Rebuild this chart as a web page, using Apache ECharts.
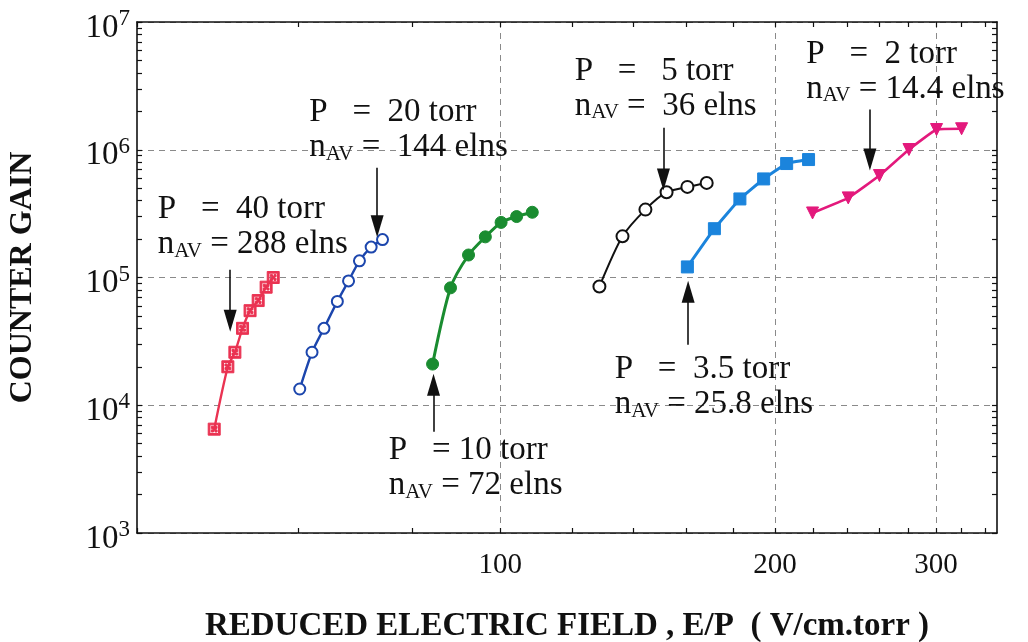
<!DOCTYPE html>
<html>
<head>
<meta charset="utf-8">
<script src="https://cdn.jsdelivr.net/npm/echarts@6/dist/echarts.min.js"></script>
<style>
  html, body { margin: 0; padding: 0; background: #fff; }
  #chart { width: 1028px; height: 642px; }
</style>
</head>
<body>
<div id="chart"></div>
<script>
// Counter gain versus reduced field E/P, one curve per filling pressure
const ep40   = [48.6, 50.3, 51.2, 52.2, 53.2, 54.3, 55.4, 56.4];
const gain40 = [6500, 20000, 26000, 40000, 55000, 66000, 84000, 100000];

const ep20   = [60.3, 62.2, 64.1, 66.3, 68.2, 70.1, 72.2, 74.3];
const gain20 = [13400, 26000, 40000, 65000, 94000, 135000, 173000, 198000];

const ep10   = [84.3, 88.2, 92.3, 96.3, 100.2, 104.2, 108.4];
const gain10 = [21000, 83000, 150000, 208000, 270000, 300000, 324000];

const ep5    = [128.4, 136.1, 144.2, 152.1, 160.3, 168.3];
const gain5  = [85000, 210000, 340000, 465000, 512000, 550000];

const ep35   = [160.3, 171.6, 183.0, 194.3, 205.9, 217.6];
const gain35 = [121000, 241000, 412000, 591000, 780000, 838000];

const ep2    = [219.8, 240.5, 260.2, 280.3, 300.5, 320.1];
const gain2  = [320000, 420000, 628000, 1004000, 1440000, 1460000];

// axis ticks and labels
const xTicks  = [40, 60, 80, 100, 120, 140, 160, 180, 200, 220, 240, 260, 280, 300, 320, 340];
const xLabels = [100, 200, 300];
const yLabels = [1e3, 1e4, 1e5, 1e6, 1e7];
const yTicks = [];
for (let e = 3; e < 7; e++) {
  for (let m = 1; m < 10; m++) yTicks.push(m * Math.pow(10, e));
}
yTicks.push(1e7);

// annotation text: pressure and mean number of electrons per event
const notes = [
  { p: 'P   =  40 torr',  n: ' = 288 elns',  at: [42.1, 250000],  arrow: [[50.6, 115000], [50.6, 45800]] },
  { p: 'P   =  20 torr',  n: ' =  144 elns', at: [61.7, 1440000], arrow: [[73.3, 724000], [73.3, 251500]] },
  { p: 'P   = 10 torr',   n: ' = 72 elns',   at: [75.4, 3230],    arrow: [[84.5, 6190], [84.5, 14450]] },
  { p: 'P   =   5 torr',  n: ' =  36 elns',  at: [120.5, 3020000],arrow: [[150.9, 1490000], [150.9, 584000]] },
  { p: 'P   =  3.5 torr', n: ' = 25.8 elns', at: [133.3, 13900],  arrow: [[160.6, 29700], [160.6, 77400]] },
  { p: 'P   =  2 torr',   n: ' = 14.4 elns', at: [216.1, 4100000],arrow: [[254, 2070000], [254, 838000]] }
];

const serif = '"Liberation Serif", "Times New Roman", serif';
const ink = '#111';

function pairs(xs, ys) { return xs.map((x, i) => [x, ys[i]]); }

function noteMarks(note) {
  return {
    markPoint: {
      silent: true,
      animation: false,
      symbol: 'circle',
      symbolSize: 1,
      itemStyle: { color: 'rgba(0,0,0,0)' },
      data: [{ coord: note.at }],
      label: {
        show: true,
        position: 'right',
        distance: 0,
        align: 'left',
        formatter: '{t|' + note.p + '}\n{t|n}{s|AV}{t|' + note.n + '}',
        rich: {
          t: { fontFamily: serif, fontSize: 33, color: ink, lineHeight: 35 },
          s: { fontFamily: serif, fontSize: 21, color: ink, verticalAlign: 'bottom' }
        }
      }
    },
    markLine: {
      silent: true,
      animation: false,
      symbol: ['none', 'triangle'],
      symbolSize: [13, 22],
      label: { show: false },
      lineStyle: { color: ink, width: 1.6, type: 'solid' },
      data: [[{ coord: note.arrow[0] }, { coord: note.arrow[1] }]]
    }
  };
}

function curve(xs, ys, color, opts, note) {
  return Object.assign({
    type: 'line',
    xAxisIndex: 0,
    yAxisIndex: 0,
    data: pairs(xs, ys),
    smooth: 0.25,
    lineStyle: { color: color, width: 2.4 },
    itemStyle: { color: color, borderColor: color },
    symbolSize: 12,
    animation: false,
    z: 3
  }, opts, noteMarks(note));
}

// square marker with a hatched interior
const crossBox = 'path://M0,0H10V10H0Z M1.4,1.4V8.6H8.6V1.4Z M2.6,2.6H4.4V4.4H2.6Z M5.6,2.6H7.4V4.4H5.6Z M2.6,5.6H4.4V7.4H2.6Z M5.6,5.6H7.4V7.4H5.6Z M4.1,4.1H5.9V5.9H4.1Z';

const chart = echarts.init(document.getElementById('chart'), null, { renderer: 'canvas' });

const xCommon = { type: 'log', logBase: 10, min: 40, max: 350, gridIndex: 0 };
const yCommon = { type: 'log', logBase: 10, min: 1e3, max: 1e7, gridIndex: 0 };
const axisLine = { show: true, onZero: false, lineStyle: { color: ink, width: 1.6 } };

chart.setOption({
  backgroundColor: '#fff',
  grid: { left: 137, right: 31, top: 22, bottom: 109, containLabel: false, outerBoundsMode: 'none' },
  xAxis: [
    Object.assign({}, xCommon, {
      position: 'bottom',
      axisLine: axisLine,
      axisTick: { show: true, inside: true, length: 5, customValues: xTicks, lineStyle: { color: ink, width: 1.2 } },
      axisLabel: { show: true, customValues: xLabels, fontFamily: serif, fontSize: 29, color: ink, margin: 18 },
      splitLine: { show: false },
      name: 'REDUCED ELECTRIC FIELD , E/P  ( V/cm.torr )',
      nameLocation: 'middle',
      nameGap: 77,
      nameTextStyle: { fontFamily: serif, fontWeight: 'bold', fontSize: 33, color: ink }
    }),
    Object.assign({}, xCommon, {
      position: 'top',
      axisLine: axisLine,
      axisTick: { show: true, inside: true, length: 5, customValues: xTicks, lineStyle: { color: ink, width: 1.2 } },
      axisLabel: { show: false },
      splitLine: { show: false }
    }),
    Object.assign({}, xCommon, {
      position: 'bottom',
      axisLine: { show: false },
      axisTick: { show: false, customValues: xLabels },
      axisLabel: { show: false },
      splitLine: { show: true, lineStyle: { color: '#8a8a8a', width: 1, type: [6, 5] } }
    })
  ],
  yAxis: [
    Object.assign({}, yCommon, {
      position: 'left',
      axisLine: axisLine,
      axisTick: { show: true, inside: true, length: 5, customValues: yTicks, lineStyle: { color: ink, width: 1.2 } },
      axisLabel: {
        show: true,
        customValues: yLabels,
        margin: 7,
        formatter: function (v) {
          return '{b|10}{sup|' + Math.round(Math.log10(v)) + '}';
        },
        rich: {
          b: { fontFamily: serif, fontSize: 33, color: ink, padding: [12, 0, 0, 0] },
          sup: { fontFamily: serif, fontSize: 23, color: ink, padding: [0, 0, 6, 0] }
        }
      },
      splitLine: { show: false },
      name: 'COUNTER GAIN',
      nameLocation: 'middle',
      nameGap: 98,
      nameRotate: 90,
      nameTextStyle: { fontFamily: serif, fontWeight: 'bold', fontSize: 32, color: ink }
    }),
    Object.assign({}, yCommon, {
      position: 'right',
      axisLine: axisLine,
      axisTick: { show: true, inside: true, length: 5, customValues: yTicks, lineStyle: { color: ink, width: 1.2 } },
      axisLabel: { show: false },
      splitLine: { show: false }
    }),
    Object.assign({}, yCommon, {
      position: 'left',
      axisLine: { show: false },
      axisTick: { show: false },
      axisLabel: { show: false },
      splitLine: { show: true, lineStyle: { color: '#8a8a8a', width: 1, type: [6, 5] } }
    })
  ],
  series: [
    curve(ep40, gain40, '#ea3352', {
      name: 'P = 40 torr', symbol: crossBox, symbolSize: 12
    }, notes[0]),
    curve(ep20, gain20, '#1c46ad', {
      name: 'P = 20 torr', symbol: 'emptyCircle', symbolSize: 11,
      itemStyle: { color: '#1c46ad', borderColor: '#1c46ad', borderWidth: 2.2 }
    }, notes[1]),
    curve(ep10, gain10, '#1a8c30', {
      name: 'P = 10 torr', symbol: 'circle', symbolSize: 12,
      lineStyle: { color: '#1a8c30', width: 3 }
    }, notes[2]),
    curve(ep5, gain5, '#111111', {
      name: 'P = 5 torr', symbol: 'emptyCircle', symbolSize: 12,
      lineStyle: { color: '#111', width: 2 },
      itemStyle: { color: '#111', borderColor: '#111', borderWidth: 1.6 }
    }, notes[3]),
    curve(ep35, gain35, '#1b84dc', {
      name: 'P = 3.5 torr', symbol: 'rect', symbolSize: 12, smooth: 0.1,
      lineStyle: { color: '#1b84dc', width: 3 }
    }, notes[4]),
    curve(ep2, gain2, '#e3197c', {
      name: 'P = 2 torr', symbol: 'triangle', symbolRotate: 180, symbolSize: 12, smooth: 0.1,
      lineStyle: { color: '#e3197c', width: 2.6 }
    }, notes[5])
  ]
});
</script>
</body>
</html>
